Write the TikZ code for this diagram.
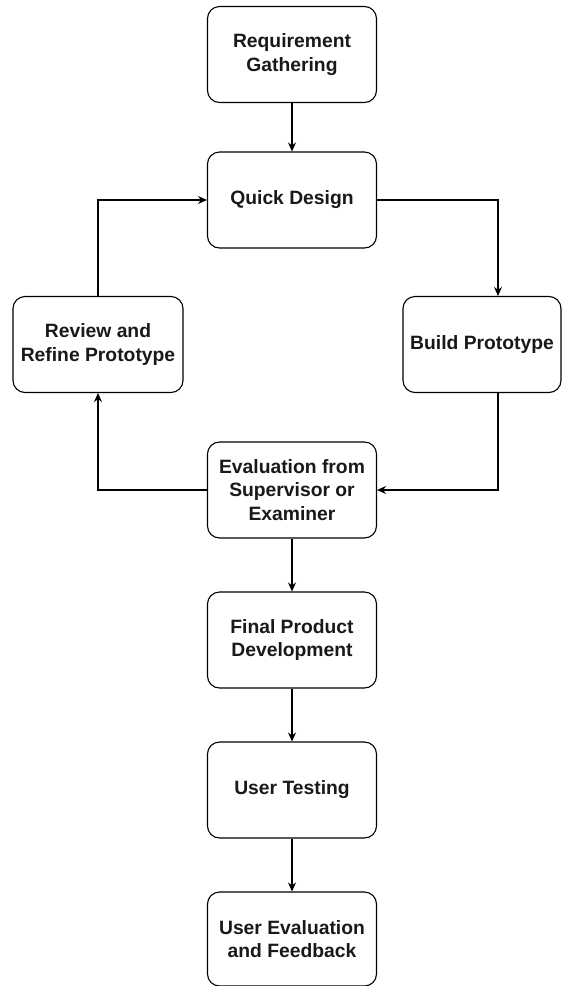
\documentclass[tikz,border=0pt]{standalone}
\usepackage{fontspec}
\setmainfont{Liberation Sans}
\usetikzlibrary{arrows.meta}
\begin{document}
\begin{tikzpicture}[x=1pt,y=-1pt,
  stage/.style={draw=black, line width=1.1pt, fill=white, rounded corners=12pt,
    minimum width=169pt, minimum height=96pt, align=center, inner sep=2pt,
    font=\fontsize{19.3}{23.5}\selectfont\bfseries, text=black!90},
  flow/.style={draw=black, line width=1.1pt, -{Stealth[length=9pt,width=8pt]}}]
\useasboundingbox (0,0) rectangle (564,986);
\fill[white] (0,0) rectangle (564,986);

\node[stage] (req)   at (292,54.5) {Requirement\\Gathering};
\node[stage] (quick) at (292,200) {Quick Design};
\node[stage, minimum width=170pt] (review) at (98,344.5) {Review and\\Refine Prototype};
\node[stage, minimum width=158pt] (build)  at (482,344.5) {Build Prototype};
\node[stage] (eval)  at (292,490) {Evaluation from\\Supervisor or\\Examiner};
\node[stage] (final) at (292,640) {Final Product\\Development};
\node[stage] (test)  at (292,790) {User Testing};
\node[stage, minimum height=94pt] (feed) at (292,939) {User Evaluation\\and Feedback};

\draw[flow] (req.south) -- (quick.north);
\draw[flow] (quick.east) -| ([xshift=16pt]build.north);
\draw[flow] ([xshift=16pt]build.south) |- (eval.east);
\draw[flow] (eval.west) -| (review.south);
\draw[flow] (review.north) |- (quick.west);
\draw[flow] (eval.south) -- (final.north);
\draw[flow] (final.south) -- (test.north);
\draw[flow] (test.south) -- (feed.north);
\end{tikzpicture}
\end{document}
